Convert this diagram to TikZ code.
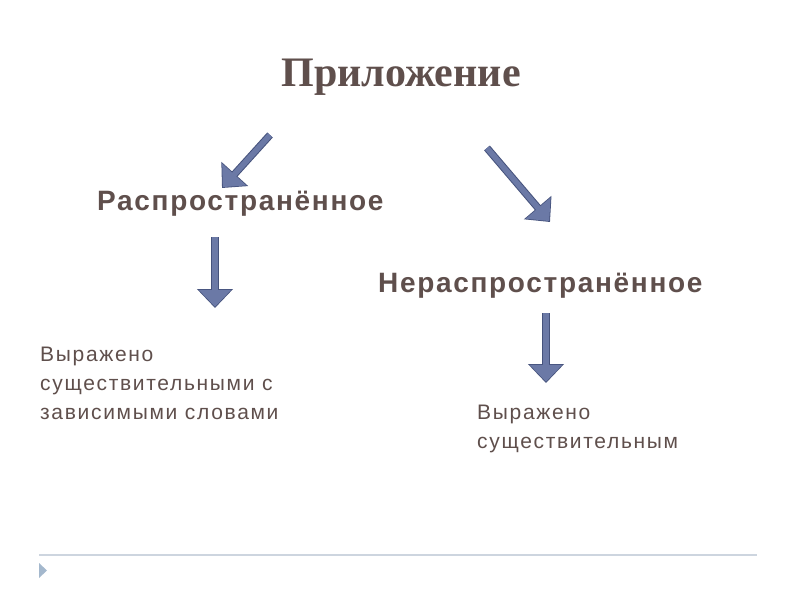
\documentclass[tikz,border=0pt]{standalone}
\usepackage{fontspec}
\setmainfont{Liberation Serif}
\setsansfont{Liberation Sans}
\newfontfamily\kindfont[LetterSpace=6]{Liberation Sans}
\newfontfamily\notefont[LetterSpace=8]{Liberation Sans}
\usepackage{xcolor}
\usetikzlibrary{positioning,arrows.meta}

\definecolor{textbrown}{HTML}{5F4F4C}
\definecolor{arrfill}{HTML}{6B79A6}
\definecolor{arrline}{HTML}{45527C}
\definecolor{rulegrey}{HTML}{CDD5DF}
\definecolor{markblue}{HTML}{A4B8CD}

\begin{document}
\begin{tikzpicture}[
  x=1pt, y=-1pt,
  title/.style={font=\fontsize{42}{46}\selectfont\bfseries, text=textbrown, inner sep=0pt},
  kind/.style={font=\kindfont\fontsize{28}{30}\selectfont\bfseries, text=textbrown, inner sep=0pt, anchor=west},
  note/.style={font=\notefont\fontsize{21}{29}\selectfont, text=textbrown, inner sep=0pt, align=left, anchor=north west},
  arrback/.style={line width=7.5pt, arrline, -{Triangle[length=19pt, width=35pt]}},
  arrfront/.style={line width=5.5pt, arrfill, shorten >=1.2pt, -{Triangle[length=17pt, width=31.5pt]}}
]
\useasboundingbox (0,0) rectangle (800,600);

\node[title] (app) at (401,77) {Приложение};
\node[kind] (ext) at (97,204) {Распространённое};
\node[kind] (nonext) at (378,286) {Нераспространённое};
\node[note] (extnote) at (40,347) {Выражено\\существительными с\\зависимыми словами};
\node[note] (nonextnote) at (477,405) {Выражено\\существительным};

% arrow ends
\coordinate (l1) at (270,135); \coordinate (l2) at (222,188);
\coordinate (r1) at (487,148); \coordinate (r2) at (550,222);
\coordinate (d1) at (215,237); \coordinate (d2) at (215,308);
\coordinate (e1) at (546,313); \coordinate (e2) at (546,383);

\foreach \s/\t in {l1/l2, r1/r2, d1/d2, e1/e2} {
  \draw[arrback] (\s) -- (\t);
  \draw[arrfront] (\s) -- (\t);
}

% slide footer
\coordinate (f1) at (39,555); \coordinate (f2) at (757,555);
\draw[rulegrey, line width=2.5pt] (f1) -- (f2);
\fill[markblue] (39,563) -- (47,570.5) -- (39,578) -- cycle;
\end{tikzpicture}
\end{document}
